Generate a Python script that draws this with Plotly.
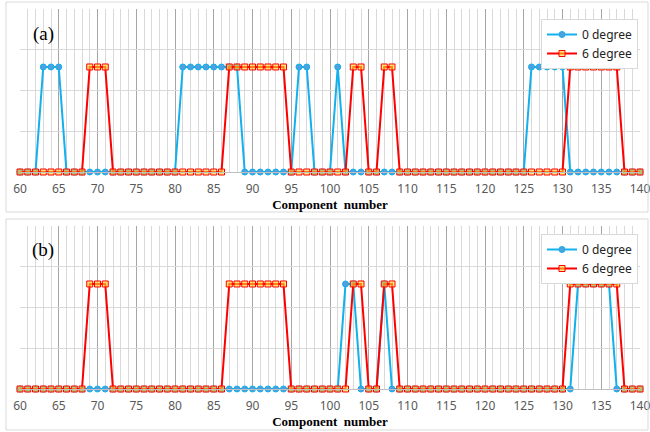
import plotly.graph_objects as go

components = list(range(60, 141))

a_0deg = [0,0,0,1,1,1,0,0,0,0,
          0,0,0,0,0,0,0,0,0,0,
          0,1,1,1,1,1,1,1,1,0,
          0,0,0,0,0,0,1,1,0,0,
          0,1,0,0,0,0,0,0,0,0,
          0,0,0,0,0,0,0,0,0,0,
          0,0,0,0,0,0,1,1,1,1,
          1,0,0,0,0,0,0,0,0,0,
          0]
a_6deg = [0,0,0,0,0,0,0,0,0,1,
          1,1,0,0,0,0,0,0,0,0,
          0,0,0,0,0,0,0,1,1,1,
          1,1,1,1,1,0,0,0,0,0,
          0,0,0,1,1,0,0,1,1,0,
          0,0,0,0,0,0,0,0,0,0,
          0,0,0,0,0,0,0,0,0,0,
          0,1,1,1,1,1,1,1,0,0,
          0]
b_0deg = [0,0,0,0,0,0,0,0,0,0,
          0,0,0,0,0,0,0,0,0,0,
          0,0,0,0,0,0,0,0,0,0,
          0,0,0,0,0,0,0,0,0,0,
          0,0,1,1,0,0,0,1,0,0,
          0,0,0,0,0,0,0,0,0,0,
          0,0,0,0,0,0,0,0,0,0,
          0,0,1,1,1,1,1,0,0,0,
          0]
b_6deg = [0,0,0,0,0,0,0,0,0,1,
          1,1,0,0,0,0,0,0,0,0,
          0,0,0,0,0,0,0,1,1,1,
          1,1,1,1,1,0,0,0,0,0,
          0,0,0,1,1,0,0,1,1,0,
          0,0,0,0,0,0,0,0,0,0,
          0,0,0,0,0,0,0,0,0,0,
          0,1,1,1,1,1,1,1,0,0,
          0]

series_names = ["0 degree", "6 degree"]
panel_labels = ["(a)", "(b)"]
x_ticks = list(range(60, 141, 5))

W, H = 650, 432
def px(x): return x / W
def py(y): return 1 - y / H

blue_line = "#12b0ec"
blue_fill = "#4fa0dc"
red_line = "#ff0000"
sq_fill = "rgba(255,215,40,0.6)"

fig = go.Figure()

def add_pair(v0, v6, xa, ya, legend):
    fig.add_trace(go.Scatter(
        x=components, y=v0, name=series_names[0], xaxis=xa, yaxis=ya, legend=legend,
        mode="lines+markers", line=dict(color=blue_line, width=2),
        marker=dict(symbol="circle", size=6, color=blue_fill, line=dict(color=blue_line, width=1)),
        cliponaxis=False))
    fig.add_trace(go.Scatter(
        x=components, y=v6, name=series_names[1], xaxis=xa, yaxis=ya, legend=legend,
        mode="lines+markers", line=dict(color=red_line, width=2),
        marker=dict(symbol="square", size=6, color=sq_fill, line=dict(color=red_line, width=1)),
        cliponaxis=False))

add_pair(a_0deg, a_6deg, "x", "y", "legend")
add_pair(b_0deg, b_6deg, "x2", "y2", "legend2")

ytop = 1.552
ygrid = [ytop * k / 4 for k in range(1, 5)]

xcommon = dict(range=[60, 140], tickvals=x_ticks, showgrid=True, gridcolor="#a6a6a6", gridwidth=1,
               minor=dict(dtick=1, showgrid=True, gridcolor="#d9d9d9", gridwidth=1),
               showline=True, linecolor="#bfbfbf", linewidth=1, ticks="", zeroline=False,
               ticklabeloverflow="allow", ticklabelstandoff=6,
               tickfont=dict(family="Noto Sans", size=12, color="#595959"),
               title=dict(text="<b>Component  number</b>", font=dict(family="Liberation Serif", size=13, color="#000000"), standoff=1))
ycommon = dict(range=[0, ytop], tickvals=ygrid, showticklabels=False, showgrid=True,
               gridcolor="#d9d9d9", gridwidth=1, zeroline=False, showline=False, ticks="")

legend_common = dict(xanchor="left", yanchor="top", bgcolor="white",
                     bordercolor="#d9d9d9", borderwidth=1,
                     font=dict(family="Noto Sans", size=12, color="#222"),
                     tracegroupgap=0, itemwidth=30)

fig.update_layout(
    width=W, height=H, margin=dict(l=0, r=0, t=0, b=0, autoexpand=False),
    paper_bgcolor="white", plot_bgcolor="white",
    xaxis=dict(domain=[px(20), px(640)], anchor="y", **xcommon),
    yaxis=dict(domain=[py(172), py(9)], anchor="x", **ycommon),
    xaxis2=dict(domain=[px(20), px(640)], anchor="y2", **xcommon),
    yaxis2=dict(domain=[py(389), py(226)], anchor="x2", **ycommon),
    legend=dict(x=px(541), y=py(19), **legend_common),
    legend2=dict(x=px(541), y=py(234), **legend_common),
    showlegend=True,
)

fig.add_shape(type="rect", xref="paper", yref="paper", x0=px(6), x1=px(648), y0=py(212), y1=py(2),
              line=dict(color="#d9d9d9", width=1))
fig.add_shape(type="rect", xref="paper", yref="paper", x0=px(6), x1=px(648), y0=py(430), y1=py(219),
              line=dict(color="#d9d9d9", width=1))

for lab, yy in zip(panel_labels, [34, 250]):
    fig.add_annotation(text=lab, xref="paper", yref="paper", x=px(43), y=py(yy), showarrow=False,
                       xanchor="center", yanchor="middle",
                       font=dict(family="Liberation Serif", size=19, color="#000"))

fig.write_html("out.html", config={"displayModeBar": False},
               post_script="document.body.style.margin='0';document.body.style.overflow='hidden';")
